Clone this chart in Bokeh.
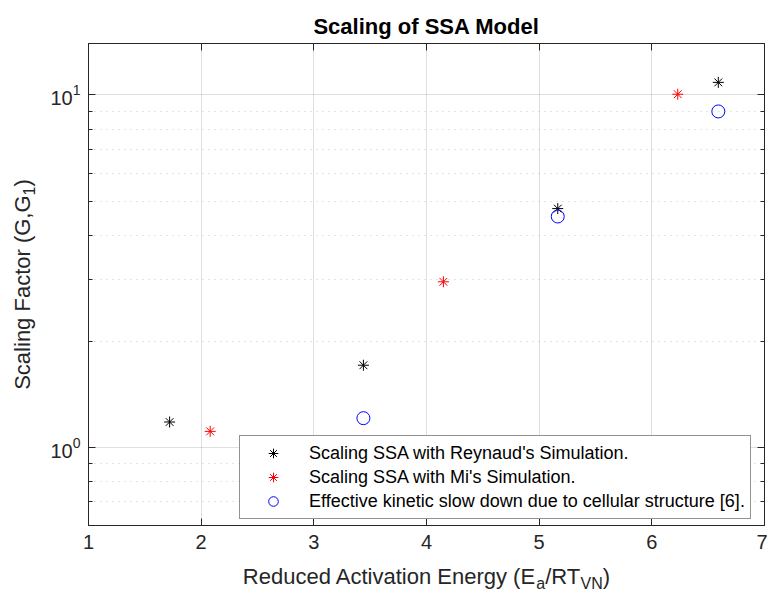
import math
from bokeh.plotting import figure
from bokeh.layouts import column, row
from bokeh.models import Range1d, FixedTicker, LogAxis, LinearAxis, Label
from bokeh.embed import file_html
from bokeh.resources import INLINE

# ---------------- data ----------------
reynaud_x = [1.72, 3.44, 5.165, 6.59]
reynaud_y = [1.18, 1.71, 4.76, 10.86]
mi_x = [2.08, 4.15, 6.23]
mi_y = [1.11, 2.95, 10.05]
cell_x = [3.44, 5.165, 6.59]
cell_y = [1.21, 4.52, 8.98]

x_ticks = [1, 2, 3, 4, 5, 6, 7]
y_major_ticks = [1, 10]
y_minor_ticks = [0.6, 0.7, 0.8, 0.9, 2, 3, 4, 5, 6, 7, 8, 9]

series_names = [
    "Scaling SSA with Reynaud's Simulation.",
    "Scaling SSA with Mi's Simulation.",
    "Effective kinetic slow down due to cellular structure [6].",
]
title_text = "Scaling of SSA Model"
xlabel_parts = [("Reduced Activation Energy (E", False), ("a", True), ("/RT", False), ("VN", True), (")", False)]
ylabel_parts = [("Scaling Factor (G,G", False), ("1", True), (")", False)]

# ---------------- layout (canvas pixels) ----------------
W, H = 767, 595
FL, FR, FT, FB = 88, 764, 43, 525          # frame of the main axes on the page
TITLE_H, XLAB_H, YLAB_W = 40, 35, 40
MAIN_W, MAIN_H = W - YLAB_W, H - TITLE_H - XLAB_H
FONT = "Liberation Sans"
AX = "#262626"
BASE_FIX = 0.32   # baseline correction (em)

AW = {' ': 278, '(': 333, ')': 333, '/': 278, ',': 278, '.': 278, '[': 278, ']': 278, "'": 191,
      'A': 667, 'E': 667, 'F': 611, 'G': 778, 'M': 833, 'N': 722, 'R': 722, 'S': 667, 'T': 611, 'V': 667,
      'a': 556, 'c': 500, 'd': 556, 'e': 556, 'f': 278, 'g': 556, 'i': 222, 'k': 500, 'l': 222,
      'n': 556, 'o': 556, 'r': 333, 's': 500, 't': 278, 'u': 556, 'v': 500, 'w': 722, 'y': 500}


def tw(s, size):
    return sum(AW.get(ch, 556) for ch in s) * size / 1000.0


# ---------------- main axes ----------------
p = figure(width=MAIN_W, height=MAIN_H, x_range=Range1d(1, 7), y_range=Range1d(0.6, 14),
           y_axis_type="log", output_backend="svg", toolbar_location=None,
           min_border_left=FL - YLAB_W, min_border_right=W - FR,
           min_border_top=FT - TITLE_H, min_border_bottom=TITLE_H + MAIN_H - FB)
p.outline_line_color = AX
p.outline_line_width = 1
p.background_fill_color = "white"
p.border_fill_color = "white"

p.xaxis.ticker = FixedTicker(ticks=x_ticks, minor_ticks=[])
p.yaxis.ticker = FixedTicker(ticks=y_major_ticks, minor_ticks=y_minor_ticks)


def style_axis(ax, labels=True):
    ax.axis_line_color = AX
    ax.major_tick_line_color = AX
    ax.minor_tick_line_color = AX
    ax.major_tick_in = 7
    ax.major_tick_out = 0
    ax.minor_tick_in = 4
    ax.minor_tick_out = 0
    ax.major_label_text_font = FONT
    if labels:
        ax.major_label_text_font_size = "20px"
        ax.major_label_text_color = AX
    else:
        ax.major_label_text_font_size = "1px"
        ax.major_label_text_color = None
        ax.major_label_text_alpha = 0
        ax.major_label_standoff = 0


for ax in p.xaxis:
    style_axis(ax)
    ax.major_label_standoff = 9
for ax in p.yaxis:
    style_axis(ax)
    ax.major_label_standoff = 8

top_ax = LinearAxis(ticker=FixedTicker(ticks=x_ticks, minor_ticks=[]))
style_axis(top_ax, labels=False)
p.add_layout(top_ax, "above")
right_ax = LogAxis(ticker=FixedTicker(ticks=y_major_ticks, minor_ticks=y_minor_ticks))
style_axis(right_ax, labels=False)
p.add_layout(right_ax, "right")

p.xgrid.grid_line_color = AX
p.xgrid.grid_line_alpha = 0.15
p.ygrid.grid_line_color = AX
p.ygrid.grid_line_alpha = 0.15
p.ygrid.minor_grid_line_color = AX
p.ygrid.minor_grid_line_alpha = 0.25
p.ygrid.minor_grid_line_dash = "1 5"

p.scatter(reynaud_x, reynaud_y, marker="asterisk", size=11, line_color="#000000", line_width=1,
          legend_label=series_names[0])
p.scatter(mi_x, mi_y, marker="asterisk", size=11, line_color="#ff0000", line_width=1,
          legend_label=series_names[1])
p.scatter(cell_x, cell_y, marker="circle", size=13, line_color="#0000ff", fill_color=None, line_width=1,
          legend_label=series_names[2])

lg = p.legend[0]
lg.location = (239 - FL, FB - 519)
lg.padding = 5
lg.margin = 0
lg.spacing = 0
lg.glyph_width = 56
lg.glyph_height = 24
lg.label_height = 24
lg.label_standoff = 8
lg.label_text_font = FONT
lg.label_text_font_size = "18px"
lg.label_text_color = "#000000"
lg.border_line_color = AX
lg.border_line_width = 1
lg.background_fill_alpha = 1.0


# ---------------- text panels ----------------
def text_fig(w, h, left=0, right=0, top=0, bottom=0):
    f = figure(width=w, height=h, output_backend="svg", toolbar_location=None,
               min_border_left=left, min_border_right=right, min_border_top=top, min_border_bottom=bottom,
               x_axis_location=None, y_axis_location=None)
    f.grid.visible = False
    f.outline_line_color = None
    f.border_fill_color = "white"
    f.background_fill_color = "white"
    return f


# each text panel: (figure, canvas x of frame left, canvas y of frame bottom)
title_fig = text_fig(W, TITLE_H, left=FL, right=W - FR)
title_frame = (FL, TITLE_H)
ylab_fig = text_fig(YLAB_W, MAIN_H, top=FT - TITLE_H, bottom=TITLE_H + MAIN_H - FB)
ylab_frame = (0, FB)
xlab_fig = text_fig(W, XLAB_H, left=FL, right=W - FR)
xlab_frame = (FL, H)


def lab(panel, cx, cy, text, size, color=AX, bold=False, align="left", vertical=False):
    fig, fx, fy = panel
    if vertical:
        cx -= BASE_FIX * size
    else:
        cy -= BASE_FIX * size
    fig.add_layout(Label(x=cx - fx, y=fy - cy, x_units="screen", y_units="screen",
                         text=text, text_font=FONT, text_font_size=f"{size}px", text_color=color,
                         text_font_style="bold" if bold else "normal",
                         text_align=align, text_baseline="alphabetic",
                         angle=math.pi / 2 if vertical else 0.0))


fc_x = (FL + FR) / 2
fc_y = (FT + FB) / 2

# title
lab((title_fig, *title_frame), fc_x, 33, title_text, 22, color="#000000", bold=True, align="center")

# x label with subscripts
MAIN, SUB, SHIFT = 22, 16, 5
total = sum(tw(t, SUB if s else MAIN) for t, s in xlabel_parts)
x0 = fc_x - total / 2
for t, s in xlabel_parts:
    lab((xlab_fig, *xlab_frame), x0, 583 + (SHIFT if s else 0), t, SUB if s else MAIN)
    x0 += tw(t, SUB if s else MAIN)

# y label with subscripts (rotated)
total = sum(tw(t, SUB if s else MAIN) for t, s in ylabel_parts)
y0 = fc_y + total / 2
for t, s in ylabel_parts:
    lab((ylab_fig, *ylab_frame), 29 + (SHIFT if s else 0), y0, t, SUB if s else MAIN, vertical=True)
    y0 -= tw(t, SUB if s else MAIN)

page = column(title_fig, row(ylab_fig, p, spacing=0), xlab_fig, spacing=0)
open("out.html", "w").write(file_html(page, INLINE))
